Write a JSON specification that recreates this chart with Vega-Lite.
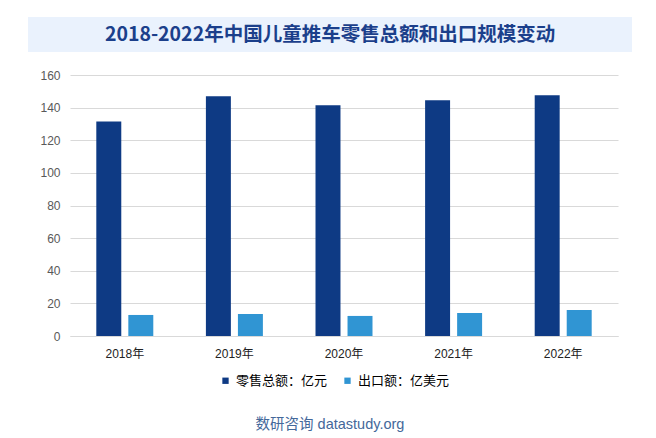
{
  "$schema": "https://vega.github.io/schema/vega-lite/v6.json",
  "padding": {"left": 28, "top": 17, "right": 24, "bottom": 2},
  "background": "#ffffff",
  "title": {
    "text": "数研咨询 datastudy.org",
    "orient": "bottom",
    "anchor": "middle",
    "font": "Liberation Sans, Noto Sans CJK SC",
    "fontSize": 14.5,
    "fontWeight": "normal",
    "color": "#44689a",
    "offset": 30,
    "dx": -14
  },
  "center": true,
  "spacing": 17,
  "vconcat": [
    {
      "width": 604,
      "height": 35,
      "view": {"fill": "#eaf2fd", "stroke": null},
      "data": {"values": [{"t": "2018-2022年中国儿童推车零售总额和出口规模变动", "row": "title"}]},
      "mark": {
        "type": "text",
        "font": "Noto Sans CJK SC",
        "fontSize": 19.5,
        "fontWeight": "bold",
        "color": "#1b3f8b",
        "baseline": "middle",
        "align": "center"
      },
      "encoding": {
        "text": {"field": "t", "type": "nominal"},
        "y": {
          "field": "row",
          "type": "nominal",
          "axis": {
            "orient": "right",
            "title": null,
            "labels": true,
            "labelColor": "transparent",
            "ticks": false,
            "domain": false,
            "grid": false,
            "minExtent": 28,
            "maxExtent": 28
          }
        }
      }
    },
    {
      "width": 548,
      "height": 261,
      "view": {"stroke": null},
      "data": {
        "values": [
          {"year": "2018年", "series": "零售总额：亿元", "value": 131.5},
          {"year": "2018年", "series": "出口额：亿美元", "value": 12.9},
          {"year": "2019年", "series": "零售总额：亿元", "value": 146.9},
          {"year": "2019年", "series": "出口额：亿美元", "value": 13.5},
          {"year": "2020年", "series": "零售总额：亿元", "value": 141.4},
          {"year": "2020年", "series": "出口额：亿美元", "value": 12.3},
          {"year": "2021年", "series": "零售总额：亿元", "value": 144.5},
          {"year": "2021年", "series": "出口额：亿美元", "value": 14.1},
          {"year": "2022年", "series": "零售总额：亿元", "value": 147.6},
          {"year": "2022年", "series": "出口额：亿美元", "value": 16.0}
        ]
      },
      "mark": {"type": "bar"},
      "encoding": {
        "x": {
          "field": "year",
          "type": "nominal",
          "sort": null,
          "scale": {"paddingInner": 0.48, "paddingOuter": 0.24},
          "axis": {
            "title": null,
            "labelAngle": 0,
            "labelFont": "Liberation Sans, Noto Sans CJK SC",
            "labelFontSize": 12,
            "labelColor": "#222222",
            "labelPadding": 12,
            "ticks": false,
            "domainColor": "#d9d9d9",
            "domainWidth": 1
          }
        },
        "xOffset": {
          "field": "series",
          "type": "nominal",
          "sort": ["零售总额：亿元", "出口额：亿美元"],
          "scale": {"paddingInner": 0.22, "paddingOuter": 0}
        },
        "y": {
          "field": "value",
          "type": "quantitative",
          "scale": {"domain": [0, 160], "nice": false},
          "axis": {
            "title": null,
            "values": [0, 20, 40, 60, 80, 100, 120, 140, 160],
            "labelFont": "Liberation Sans, Noto Sans CJK SC",
            "labelFontSize": 12,
            "labelColor": "#595959",
            "labelPadding": 10,
            "minExtent": 42,
            "ticks": false,
            "domain": false,
            "gridColor": "#d9d9d9",
            "gridWidth": 1
          }
        },
        "color": {
          "field": "series",
          "type": "nominal",
          "sort": ["零售总额：亿元", "出口额：亿美元"],
          "scale": {"domain": ["零售总额：亿元", "出口额：亿美元"], "range": ["#0e3a84", "#3095d3"]},
          "legend": {
            "title": null,
            "orient": "none",
            "legendX": 191,
            "legendY": 357,
            "direction": "horizontal",
            "symbolType": "square",
            "symbolSize": 40,
            "symbolStrokeWidth": 0,
            "labelFont": "Noto Sans CJK SC",
            "labelFontSize": 13,
            "labelColor": "#000000",
            "labelOffset": 4,
            "columnPadding": 13
          }
        }
      }
    }
  ],
  "resolve": {"scale": {"y": "independent"}, "axis": {"y": "independent"}},
  "config": {
    "legend": {"layout": {"bottom": {"anchor": "middle"}}}
  }
}
